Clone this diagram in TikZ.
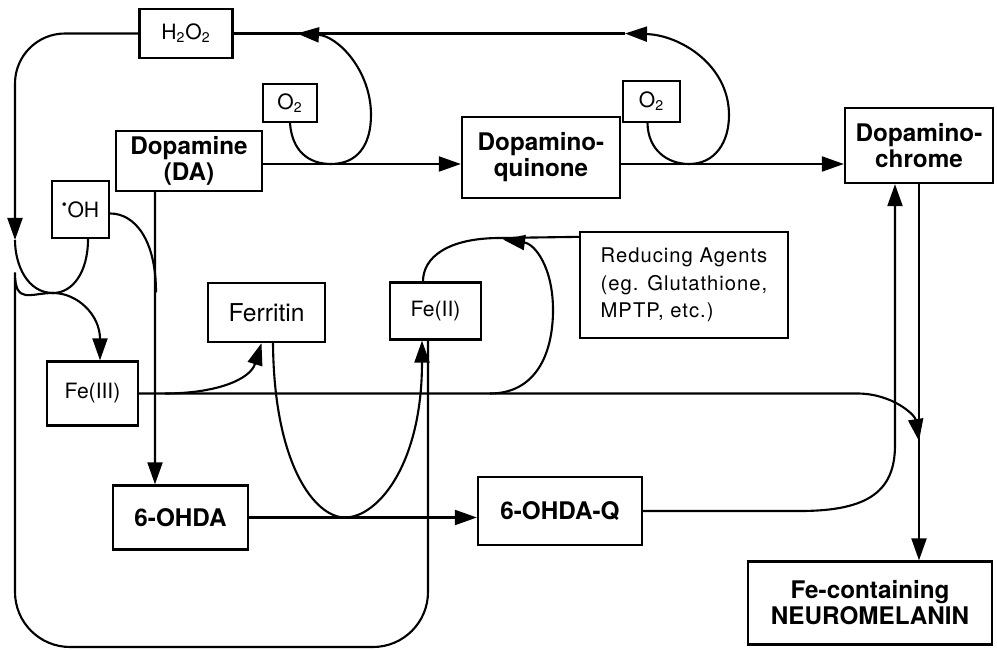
\documentclass[tikz,border=0pt]{standalone}
\usepackage{fontspec}
\setmainfont{TeX Gyre Heros}
\newfontfamily\agentfont[LetterSpace=5]{TeX Gyre Heros}
\usetikzlibrary{arrows.meta,calc}

\begin{document}
\begin{tikzpicture}[
	x=1cm, y=1cm,
	line width=1.2pt,
	species/.style={
		draw,
		line width=1.3pt,
		align=center,
		inner sep=1pt,
		font=\bfseries\fontsize{13.8}{14.8}\selectfont,
	},
	reagent/.style={
		draw,
		line width=1.3pt,
		align=center,
		inner sep=1pt,
		font=\fontsize{12}{13}\selectfont,
	},
	rxn/.style={-{Triangle[length=4.4mm,width=3mm]}},
]
\useasboundingbox (0,0) rectangle (19.94,-13.0);

% --- Látky ---
\node[reagent, minimum width=18.6mm, minimum height=9.8mm] (h2o2) at (3.72,-0.67) {H\textsubscript{2}O\textsubscript{2}};
\node[reagent, minimum width=10.8mm, minimum height=7.6mm] (o2a) at (5.80,-2.06) {O\textsubscript{2}};
\node[species, minimum width=29.2mm, minimum height=12mm] (da) at (3.78,-3.22) {Dopamine\\(DA)};
\node[reagent, minimum width=11.4mm, minimum height=11.4mm] (oh) at (1.61,-4.19) {\textsuperscript{\textbullet}OH};
\node[species, minimum width=31.6mm, minimum height=16.2mm] (dq) at (10.82,-3.15) {Dopamino-\\quinone};
\node[reagent, minimum width=11.4mm, minimum height=8.2mm] (o2b) at (13.03,-2.03) {O\textsubscript{2}};
\node[species, minimum width=29.6mm, minimum height=15mm] (dc) at (18.38,-2.91) {Dopamino-\\chrome};
\node[reagent, font=\agentfont\fontsize{11.5}{15.5}\selectfont, align=left,
	minimum width=41.6mm, minimum height=21.2mm] (red) at (13.68,-5.70)
	{Reducing Agents\\(eg. Glutathione,\\MPTP, etc.)};
\node[reagent, font=\fontsize{14}{15}\selectfont, minimum width=23.4mm, minimum height=11.8mm] (ferr) at (5.33,-6.25) {Ferritin};
\node[reagent, minimum width=18.2mm, minimum height=11.4mm] (fe2) at (8.71,-6.22) {Fe(II)};
\node[reagent, minimum width=18.2mm, minimum height=12.8mm] (fe3) at (1.85,-7.87) {Fe(III)};
\node[species, minimum width=27mm, minimum height=12.8mm] (ohda) at (3.61,-10.35) {6-OHDA};
\node[species, minimum width=32.8mm, minimum height=13.6mm] (ohdaq) at (11.20,-10.22) {6-OHDA-Q};
\node[species, minimum width=48.8mm, minimum height=16.6mm] (nm) at (17.40,-12.06) {Fe-containing\\NEUROMELANIN};

% --- Pomocné body ---
\coordinate (row)   at (0,-3.28);
\coordinate (rail)  at (0.30,-4.80);
\coordinate (cross) at (1.06,-5.86);
\coordinate (topL)  at (5.94,-0.67);
\coordinate (topR)  at (12.50,-0.67);
\coordinate (fe3a)  at (3.30,-7.87);
\coordinate (fe3b)  at (9.80,-7.87);
\coordinate (merge) at (18.38,-8.82);

% 1. DA -> dopaminochinon -> dopaminochrom
\draw[rxn] (da.east |- row) -- (dq.west |- row);
\draw[rxn] (dq.east |- row) -- (dc.west |- row);

% 2. O2 smyčky vracejí H2O2 nahoru
\draw[rxn] (o2a.south) .. controls (5.84,-3.0) and (6.15,-3.28) .. (6.62,-3.28)
	.. controls (7.15,-3.28) and (7.42,-2.9) .. (7.42,-2.3)
	.. controls (7.42,-1.4) and (6.75,-0.72) .. (topL);
\draw[rxn] ([xshift=-0.8mm]o2b.south) .. controls (12.96,-3.0) and (13.35,-3.28) .. (13.78,-3.28)
	.. controls (14.3,-3.28) and (14.58,-2.85) .. (14.58,-2.3)
	.. controls (14.58,-1.3) and (13.6,-0.7) .. (topR);
\draw (topR) -- (h2o2.east);

% 3. H2O2 po levé straně dolů, Fentonova reakce -> Fe(III)
\draw[rxn, rounded corners=10mm] (h2o2.west) -- (0.30,-0.67) -- (rail);
\draw[rxn] (rail) .. controls (0.30,-5.3) and (0.55,-5.86) .. (cross)
	.. controls (1.55,-5.86) and (2.0,-6.3) .. ([xshift=1.5mm]fe3.north);

% 4. Fe(II) spodem kolem a nahoru -> OH radikál
\draw[rounded corners=11mm] ([xshift=-1.5mm]fe2.south) -- (8.56,-12.94) -- (0.30,-12.94) -- (0.30,-6.55)
	[sharp corners] .. controls (0.30,-6.1) and (0.6,-5.86) .. (cross)
	.. controls (1.45,-5.86) and (1.76,-5.45) .. ([xshift=1.5mm]oh.south);

% 5. DA + OH -> 6-OHDA
\draw[rxn] ([xshift=-6.8mm]da.south) -- ([xshift=-5.1mm]ohda.north);
\draw ([yshift=-0.8mm]oh.east) .. controls (2.7,-4.27) and (3.12,-4.8) .. (3.12,-5.85);

% 6. 6-OHDA -> 6-OHDA-Q, ferritin uvolňuje Fe(II)
\draw[rxn] (ohda.east) -- (ohda.east -| ohdaq.west);
\draw[rxn] (fe3a) .. controls (4.3,-7.87) and (5.0,-7.6) .. ([xshift=-1mm]ferr.south);
\draw[rxn] ([xshift=1.3mm]ferr.south) .. controls (5.48,-9.3) and (6.3,-10.35) .. (6.9,-10.35)
	.. controls (7.55,-10.35) and (8.44,-9.3) .. ([xshift=-2.7mm]fe2.south);

% 7. redukční činidla: Fe(III) -> Fe(II)
\draw ([yshift=-1.2mm]red.north west) -- (10.0,-4.76)
	.. controls (8.95,-4.76) and (8.46,-5.15) .. ([xshift=-2.5mm]fe2.north);
\draw[rxn] (fe3b) .. controls (10.7,-7.87) and (11.06,-7.1) .. (11.06,-6.2)
	.. controls (11.06,-5.35) and (10.7,-4.88) .. (10.06,-4.79);

% 8. vstupy do neuromelaninu
\draw[rxn] (fe3.east) -- (17.14,-7.87) .. controls (17.85,-7.87) and (18.3,-8.3) .. (merge);
\draw[rxn] (ohdaq.east) -- (16.0,-10.22) .. controls (17.4,-10.22) and (17.9,-9.8) .. (17.9,-8.9)
	-- ([xshift=-4.8mm]dc.south);
\draw[rxn] (dc.south) -- (dc.south |- nm.north);

\end{tikzpicture}
\end{document}
